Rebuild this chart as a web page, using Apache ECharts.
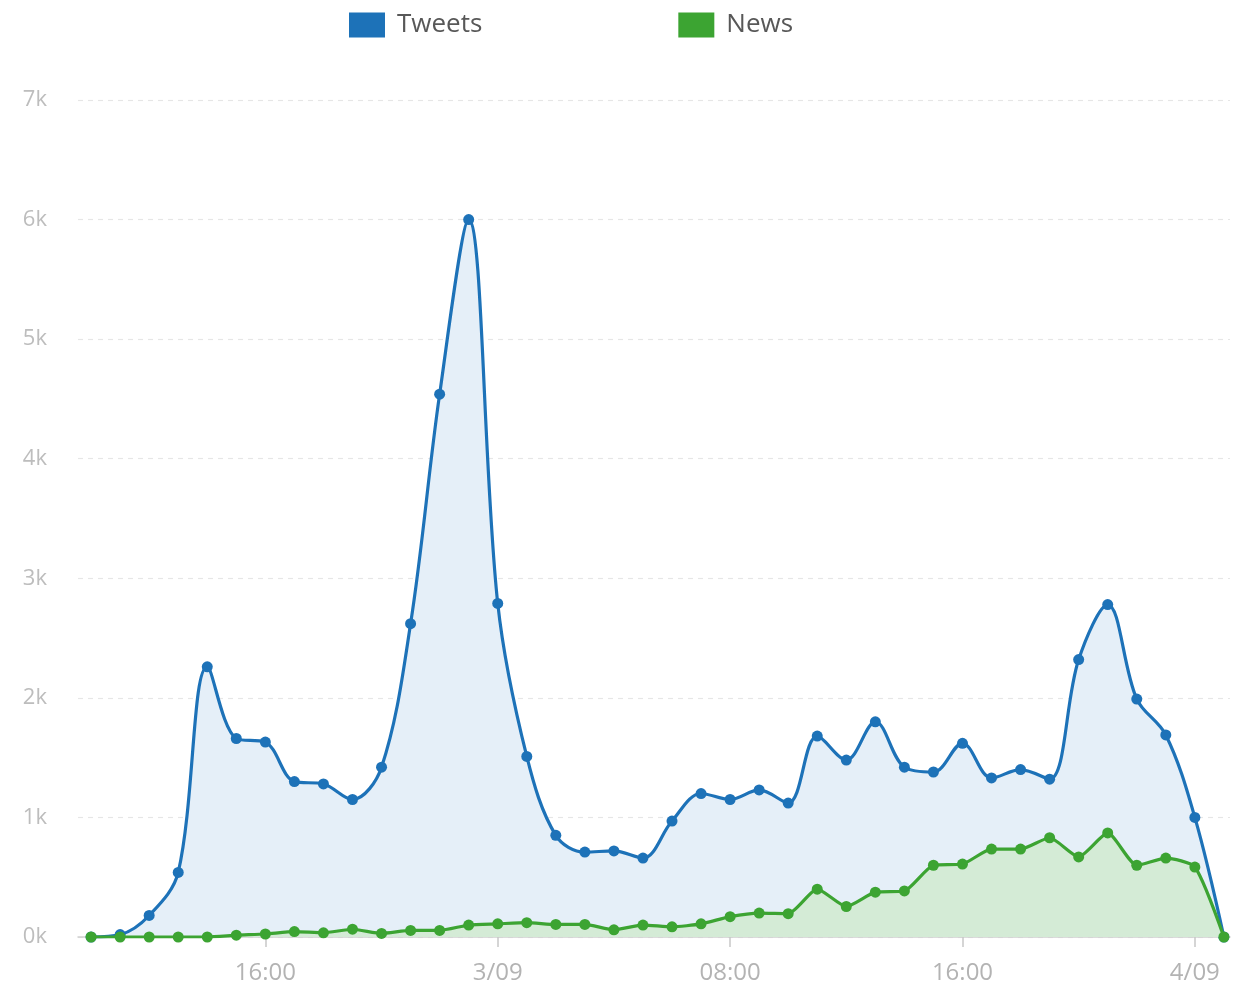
<!DOCTYPE html>
<html>
<head>
<meta charset="utf-8">
<script src="https://cdn.jsdelivr.net/npm/echarts@6/dist/echarts.min.js"></script>
<style>
html,body{margin:0;padding:0;background:#fff;}
#chart{width:1239px;height:987px;}
</style>
</head>
<body>
<div id="chart"></div>
<script>
// Hourly timestamps, from 2/09 10:00 to 4/09 01:00
var times = [
  '2/09 10:00','2/09 11:00','2/09 12:00','2/09 13:00','2/09 14:00','2/09 15:00','2/09 16:00','2/09 17:00',
  '2/09 18:00','2/09 19:00','2/09 20:00','2/09 21:00','2/09 22:00','2/09 23:00','3/09 00:00','3/09 01:00',
  '3/09 02:00','3/09 03:00','3/09 04:00','3/09 05:00','3/09 06:00','3/09 07:00','3/09 08:00','3/09 09:00',
  '3/09 10:00','3/09 11:00','3/09 12:00','3/09 13:00','3/09 14:00','3/09 15:00','3/09 16:00','3/09 17:00',
  '3/09 18:00','3/09 19:00','3/09 20:00','3/09 21:00','3/09 22:00','3/09 23:00','4/09 00:00','4/09 01:00'
];
var tweets = [
  0, 20, 180, 540, 2260, 1660, 1630, 1300,
  1280, 1150, 1420, 2620, 4540, 6000, 2790, 1510,
  850, 710, 720, 660, 970, 1200, 1150, 1230,
  1120, 1680, 1480, 1800, 1420, 1380, 1620, 1330,
  1400, 1320, 2320, 2780, 1990, 1690, 1000, 0
];
var news = [
  0, 0, 0, 0, 0, 15, 25, 45,
  35, 65, 30, 55, 55, 100, 110, 120,
  105, 105, 60, 100, 85, 110, 170, 200,
  195, 400, 255, 375, 385, 600, 610, 735,
  735, 830, 670, 870, 600, 660, 585, 0
];
var tickIndex = [6, 14, 22, 30, 38];
var tickLabels = ['16:00', '3/09', '08:00', '16:00', '4/09'];
var yTickLabels = ['0k','1k','2k','3k','4k','5k','6k','7k'];

var chart = echarts.init(document.getElementById('chart'));
var font = '"Open Sans", "Noto Sans", sans-serif';
function pairs(arr){ return arr.map(function(v,i){ return [i, v]; }); }

chart.setOption({
  backgroundColor: '#ffffff',
  animation: false,
  legend: {
    top: 12,
    left: 349,
    padding: 0,
    icon: 'rect',
    itemWidth: 36,
    itemHeight: 25,
    itemGap: 196,
    textStyle: { fontFamily: font, fontSize: 26, color: '#585858', padding: [12,0,0,7] },
    data: ['Tweets', 'News']
  },
  grid: { left: 78, right: 9, top: 100, bottom: 50, containLabel: false },
  xAxis: {
    type: 'value',
    min: -0.45,
    max: 39.21,
    splitLine: { show: false },
    axisLine: { show: true, lineStyle: { color: '#cfcfcf', width: 1.5 } },
    axisTick: { show: true, customValues: tickIndex, length: 10, lineStyle: { color: '#c8c8c8', width: 1.5 } },
    axisLabel: {
      customValues: tickIndex,
      margin: 24,
      fontFamily: font,
      fontSize: 24,
      color: '#b3b3b3',
      formatter: function(v){ var k = tickIndex.indexOf(Math.round(v)); return k >= 0 ? tickLabels[k] : ''; }
    }
  },
  yAxis: {
    type: 'value',
    min: 0,
    max: 7000,
    interval: 1000,
    axisLine: { show: false },
    axisTick: { show: false },
    axisLabel: {
      margin: 31,
      fontFamily: font,
      fontSize: 22,
      color: '#bdbdbd',
      formatter: function(v){ return yTickLabels[Math.round(v/1000)]; }
    },
    splitLine: { show: true, lineStyle: { color: '#e6e6e6', type: [5, 5], width: 1.2 } }
  },
  series: [
    {
      name: 'Tweets',
      type: 'line',
      data: pairs(tweets),
      smooth: 0.35,
      symbol: 'circle',
      symbolSize: 11,
      itemStyle: { color: '#1d72b8' },
      lineStyle: { color: '#1d72b8', width: 3.2 },
      areaStyle: { color: '#e5eff8', opacity: 1 },
      z: 2
    },
    {
      name: 'News',
      type: 'line',
      data: pairs(news),
      smooth: 0.2,
      symbol: 'circle',
      symbolSize: 11,
      itemStyle: { color: '#3ca432' },
      lineStyle: { color: '#3ca432', width: 3.2 },
      areaStyle: { color: '#d4ebd6', opacity: 1 },
      z: 3
    }
  ]
});
</script>
</body>
</html>
